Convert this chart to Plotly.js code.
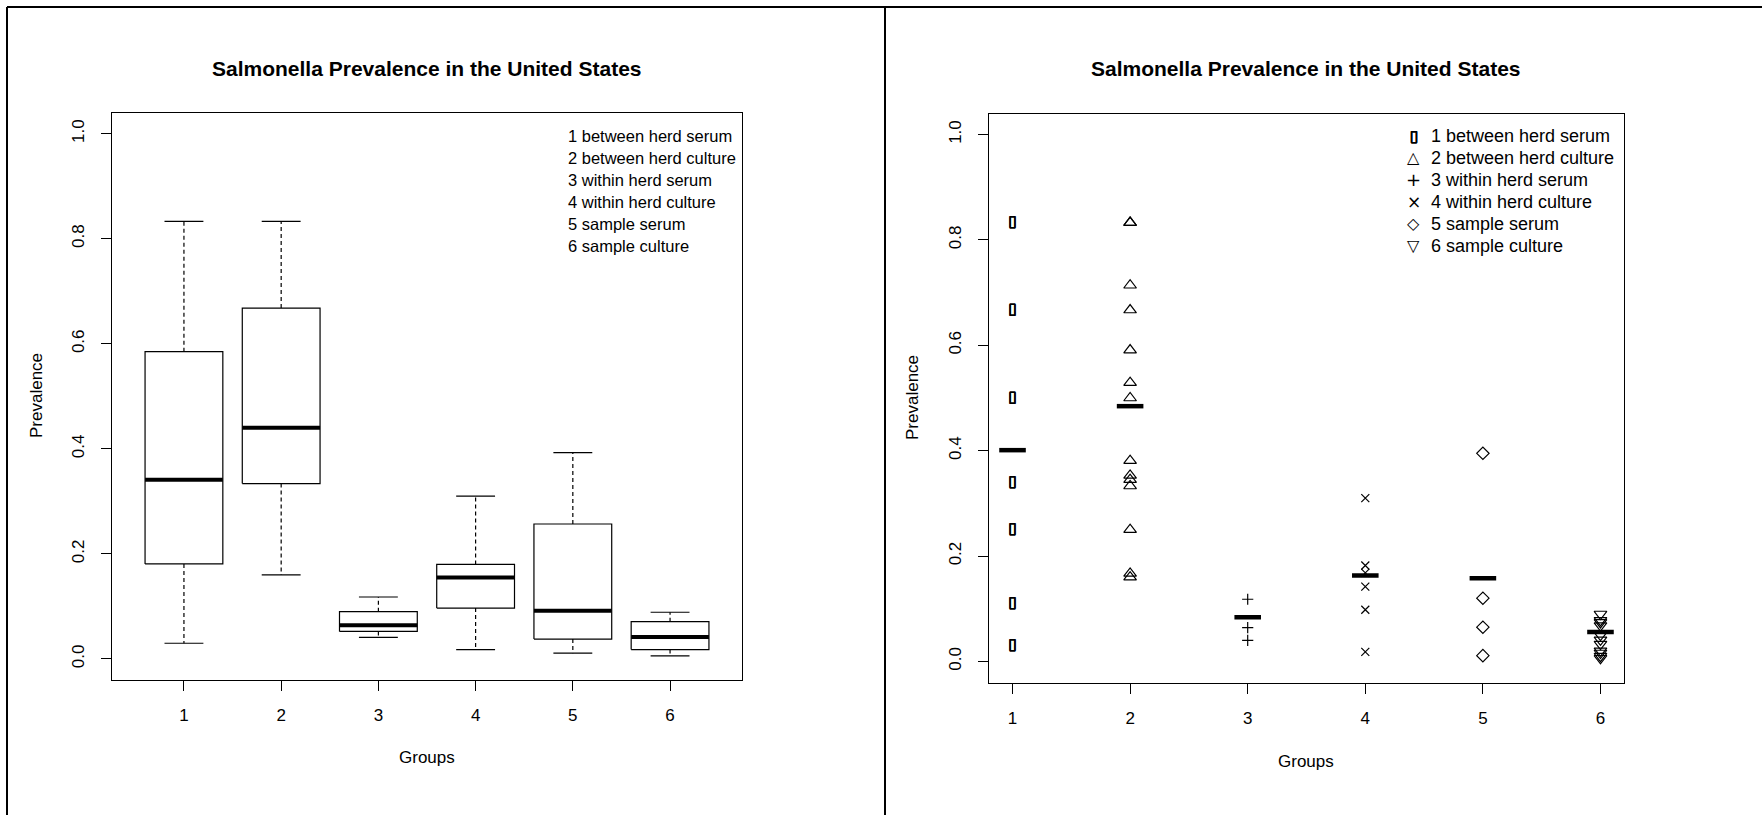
<!DOCTYPE html>
<html><head><meta charset="utf-8">
<script src="https://cdn.plot.ly/plotly-3.0.1.min.js"></script>
<style>html,body{margin:0;padding:0;background:#fff;} #chart{width:1762px;height:815px;}</style>
</head><body><div id="chart"></div>
<script>
// ---------- data ----------
const groups = [1, 2, 3, 4, 5, 6];
const groupTickLabels = ['1', '2', '3', '4', '5', '6'];
const groupLabels = ['1 between herd serum', '2 between herd culture', '3 within herd serum',
                     '4 within herd culture', '5 sample serum', '6 sample culture'];
const yTickValues = [0, 0.2, 0.4, 0.6, 0.8, 1.0];
const yTickLabels = ['0.0', '0.2', '0.4', '0.6', '0.8', '1.0'];

// boxplot statistics (left panel)
const boxLower  = [0.030, 0.160, 0.041, 0.018, 0.011, 0.006];
const boxQ1     = [0.181, 0.334, 0.0525, 0.097, 0.038, 0.018];
const boxMedian = [0.341, 0.440, 0.064, 0.155, 0.092, 0.042];
const boxQ3     = [0.585, 0.668, 0.090, 0.180, 0.257, 0.071];
const boxUpper  = [0.833, 0.833, 0.118, 0.310, 0.393, 0.089];

// individual prevalences (right panel)
const betweenHerdSerum   = [0.833, 0.667, 0.500, 0.340, 0.250, 0.110, 0.030];
const betweenHerdCulture = [0.833, 0.833, 0.714, 0.667, 0.591, 0.529, 0.500, 0.381, 0.353, 0.345, 0.333, 0.250, 0.167, 0.160];
const withinHerdSerum    = [0.118, 0.064, 0.040];
const withinHerdCulture  = [0.310, 0.182, 0.168, 0.142, 0.098, 0.018];
const sampleSerum        = [0.395, 0.120, 0.065, 0.011];
const sampleCulture      = [0.090, 0.078, 0.074, 0.068, 0.050, 0.041, 0.033, 0.020, 0.016, 0.010, 0.006];
const groupMeans         = [0.401, 0.4845, 0.084, 0.163, 0.158, 0.056];

const titleText = 'Salmonella Prevalence in the United States';
const xTitle = 'Groups';
const yTitle = 'Prevalence';

// ---------- layout helpers ----------
const W = 1762, H = 815;
const px = x => x / W;
const py = y => 1 - y / H;
const FONT = 'Liberation Sans, Arial, Helvetica, sans-serif';
const BASE = 17;
const THICK = '0.5px 0 0 black, -0.5px 0 0 black, 0 0.5px 0 black, 0 -0.5px 0 black';

const traces = [];

// ----- left panel: boxplots -----
const boxHalf = 0.4, stapleHalf = 0.2;
function seg(xs, ys, arrX, arrY) { arrX.push(...xs, null); arrY.push(...ys, null); }
const rectX = [], rectY = [], medX = [], medY = [], whX = [], whY = [], stX = [], stY = [];
groups.forEach((g, i) => {
  seg([g - boxHalf, g + boxHalf, g + boxHalf, g - boxHalf, g - boxHalf],
      [boxQ1[i], boxQ1[i], boxQ3[i], boxQ3[i], boxQ1[i]], rectX, rectY);
  seg([g - boxHalf, g + boxHalf], [boxMedian[i], boxMedian[i]], medX, medY);
  seg([g, g], [boxQ3[i], boxUpper[i]], whX, whY);
  seg([g, g], [boxQ1[i], boxLower[i]], whX, whY);
  seg([g - stapleHalf, g + stapleHalf], [boxUpper[i], boxUpper[i]], stX, stY);
  seg([g - stapleHalf, g + stapleHalf], [boxLower[i], boxLower[i]], stX, stY);
});
traces.push({x: whX, y: whY, mode: 'lines', line: {color: 'black', width: 1.2, dash: '4px,3px'}, xaxis: 'x', yaxis: 'y', hoverinfo: 'skip'});
traces.push({x: stX, y: stY, mode: 'lines', line: {color: 'black', width: 1.2}, xaxis: 'x', yaxis: 'y', hoverinfo: 'skip'});
traces.push({x: rectX, y: rectY, mode: 'lines', line: {color: 'black', width: 1.2}, xaxis: 'x', yaxis: 'y'});
traces.push({x: medX, y: medY, mode: 'lines', line: {color: 'black', width: 4}, xaxis: 'x', yaxis: 'y'});

// ----- right panel: strip chart -----
const series = [betweenHerdSerum, betweenHerdCulture, withinHerdSerum, withinHerdCulture, sampleSerum, sampleCulture];
const markerStyles = [
  null,
  {symbol: 'triangle-up-open', size: 11},
  {symbol: 'cross-thin-open', size: 8},
  {symbol: 'x-thin-open', size: 8},
  {symbol: 'diamond-open', size: 9.5},
  {symbol: 'triangle-down-open', size: 11}
];
series.forEach((vals, i) => {
  const xs = vals.map(() => groups[i]);
  if (i === 0) {
    traces.push({x: xs, y: vals, mode: 'text', text: vals.map(() => '▯'),
      textfont: {family: 'DejaVu Sans', size: 15, color: 'black', weight: 'bold', shadow: THICK},
      textposition: 'middle center', xaxis: 'x2', yaxis: 'y2', name: groupLabels[i]});
  } else {
    traces.push({x: xs, y: vals, mode: 'markers', xaxis: 'x2', yaxis: 'y2', name: groupLabels[i],
      marker: {symbol: markerStyles[i].symbol, size: markerStyles[i].size, color: 'black',
               line: {color: 'black', width: 1.2}}});
  }
});
const meanHalf = 0.113;
const mX = [], mY = [];
groups.forEach((g, i) => seg([g - meanHalf, g + meanHalf], [groupMeans[i], groupMeans[i]], mX, mY));
traces.push({x: mX, y: mY, mode: 'lines', line: {color: 'black', width: 4.5}, xaxis: 'x2', yaxis: 'y2'});

// ----- axes -----
function xAxis(domain, range, anchor) {
  return {domain, range, anchor, tickvals: groups, ticktext: groupTickLabels, ticks: 'outside', ticklen: 10,
    tickwidth: 1, tickcolor: 'black', showline: true, mirror: true, linecolor: 'black', linewidth: 1,
    showgrid: false, zeroline: false, tickfont: {family: FONT, size: BASE, color: 'black'},
    ticklabelstandoff: 10, fixedrange: true};
}
function yAxis(domain, anchor) {
  return {domain, range: [-0.04, 1.04], anchor, tickvals: yTickValues, ticktext: yTickLabels, tickangle: -90,
    ticks: 'outside', ticklen: 10, tickwidth: 1, tickcolor: 'black', showline: true, mirror: true,
    linecolor: 'black', linewidth: 1, showgrid: false, zeroline: false,
    tickfont: {family: FONT, size: BASE, color: 'black'}, ticklabelstandoff: 10, fixedrange: true};
}

// ----- annotations -----
const annotations = [];
function addText(text, x, y, opts) {
  annotations.push(Object.assign({text, x: px(x), y: py(y), xref: 'paper', yref: 'paper', showarrow: false,
    xanchor: 'center', yanchor: 'middle', font: {family: FONT, size: BASE, color: 'black'}}, opts || {}));
}
// titles
addText('<b>' + titleText + '</b>', 427, 69, {font: {family: FONT, size: 21, color: 'black'}});
addText('<b>' + titleText + '</b>', 1306, 69, {font: {family: FONT, size: 21, color: 'black'}});
// axis titles
addText(xTitle, 427, 757);
addText(xTitle, 1306, 761);
addText(yTitle, 36, 396, {textangle: -90});
addText(yTitle, 912, 398, {textangle: -90});
// legends
const legendSymbols = ['▯', '△', '+', '×', '◇', '▽'];
const legendSymbolFonts = [
  {family: 'DejaVu Sans', size: 15, color: 'black', weight: 'bold', shadow: THICK},
  {family: 'DejaVu Sans', size: 16, color: 'black'},
  {family: 'DejaVu Sans', size: 18, color: 'black'},
  {family: 'DejaVu Sans', size: 17, color: 'black'},
  {family: 'DejaVu Sans', size: 16, color: 'black'},
  {family: 'DejaVu Sans', size: 16, color: 'black'}
];
groupLabels.forEach((lab, i) => {
  const yy = 136 + i * 21.9;
  addText(lab, 566, yy, {xanchor: 'left', font: {family: FONT, size: 16.5, color: 'black'}});
  addText(lab, 1429, yy, {xanchor: 'left', font: {family: FONT, size: 18, color: 'black'}});
  addText(legendSymbols[i], 1413.6, yy, {font: legendSymbolFonts[i]});
});

// ----- frames -----
const frameLine = {color: 'black', width: 2};
const shapes = [
  {type: 'line', xref: 'paper', yref: 'paper', x0: px(7), x1: 1, y0: py(7), y1: py(7), line: frameLine},
  {type: 'line', xref: 'paper', yref: 'paper', x0: px(7), x1: px(7), y0: py(7), y1: 0, line: frameLine},
  {type: 'line', xref: 'paper', yref: 'paper', x0: px(885), x1: px(885), y0: py(7), y1: 0, line: frameLine}
];

const layout = {
  width: W, height: H, margin: {l: 0, r: 0, t: 0, b: 0},
  paper_bgcolor: 'white', plot_bgcolor: 'white', showlegend: false,
  font: {family: FONT, size: BASE, color: 'black'},
  xaxis: xAxis([px(112), px(742)], [0.26, 6.74], 'y'),
  yaxis: yAxis([py(680), py(112.7)], 'x'),
  xaxis2: xAxis([px(989), px(1624)], [0.8, 6.2], 'y2'),
  yaxis2: yAxis([py(682.5), py(113.5)], 'x2'),
  annotations, shapes
};

Plotly.newPlot('chart', traces, layout, {staticPlot: true, displayModeBar: false});
</script>
</body></html>
